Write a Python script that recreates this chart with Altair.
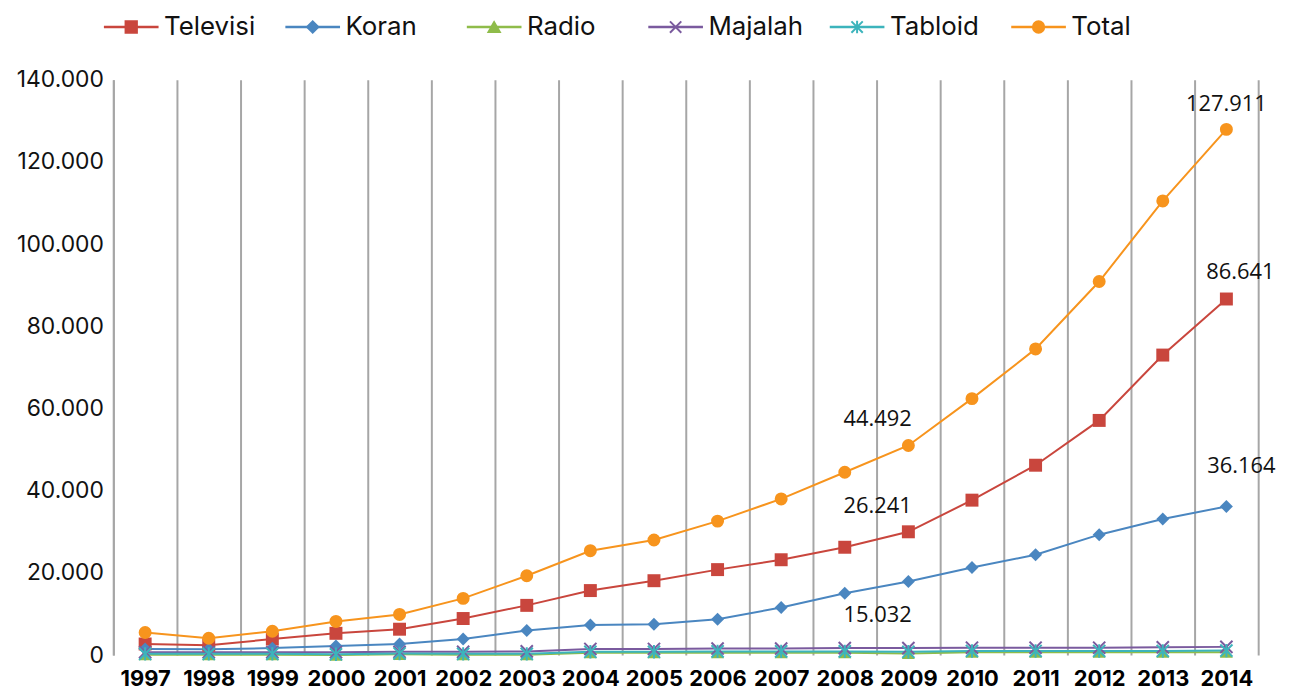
import altair as alt
import pandas as pd

years = [str(y) for y in range(1997, 2015)]
series_names = ["Televisi", "Koran", "Radio", "Majalah", "Tabloid", "Total"]
colors = ["#c9463d", "#4a86c0", "#8fbc4a", "#7a5a9e", "#3cb4bc", "#f7941d"]

televisi = [2700, 2400, 3900, 5300, 6300, 8900, 12100, 15700, 18100, 20800,
            23200, 26241, 30000, 37700, 46200, 57100, 73000, 86641]
koran = [1500, 1400, 1700, 2200, 2700, 3900, 6000, 7300, 7500, 8700,
         11600, 15032, 17900, 21300, 24400, 29300, 33100, 36164]
radio = [100, 100, 100, 0, 200, 100, 100, 600, 600, 600,
         600, 600, 400, 700, 700, 700, 700, 700]
majalah = [700, 700, 700, 700, 800, 800, 900, 1500, 1500, 1600,
           1600, 1700, 1700, 1800, 1800, 1800, 1900, 2000]
tabloid = [300, 300, 300, 200, 400, 300, 300, 800, 800, 900,
           900, 900, 800, 1000, 1000, 1000, 1000, 1100]
total = [5500, 4100, 5800, 8200, 9900, 13800, 19300, 25400, 28000, 32600,
         38000, 44492, 51000, 62400, 74500, 90900, 110500, 127911]

values = [televisi, koran, radio, majalah, tabloid, total]
rows = []
for name, vals in zip(series_names, values):
    for yr, v in zip(years, vals):
        rows.append({"Tahun": yr, "series": name, "nilai": v})
df = pd.DataFrame(rows)
legend_df = pd.DataFrame({"series": series_names})

marker_shapes = [
    "square",
    "diamond",
    "triangle-up",
    "M-1,-1L1,1M-1,1L1,-1",
    "M-1,-1L1,1M-1,1L1,-1M0,-1.1L0,1.1",
    "circle",
]
marker_filled = [True, True, True, False, False, True]

color_scale = alt.Scale(domain=series_names, range=colors)

x_enc = alt.X(
    "Tahun:O",
    title=None,
    sort=years,
    scale=alt.Scale(domain=years, paddingInner=0, paddingOuter=0),
    axis=alt.Axis(
        labelAngle=0,
        labelFont="Inter",
        labelFontWeight="bold",
        labelFontSize=22,
        labelColor="#000000",
        labelPadding=14,
        labelOverlap=False,
        ticks=False,
        domain=False,
        grid=True,
        tickBand="extent",
        gridColor="#a6a6a6",
        gridWidth=2,
    ),
)
y_enc = alt.Y(
    "nilai:Q",
    title=None,
    scale=alt.Scale(domain=[0, 140000], nice=False),
    axis=alt.Axis(
        values=[0, 20000, 40000, 60000, 80000, 100000, 120000, 140000],
        format=",d",
        labelFont="Inter",
        labelFontSize=23,
        labelColor="#111111",
        labelPadding=10,
        ticks=False,
        grid=False,
        domain=True,
        domainColor="#a6a6a6",
        domainWidth=2,
    ),
)
x_plain = alt.X("Tahun:O", sort=years)
y_plain = alt.Y("nilai:Q")

base = alt.Chart(df)

lines = base.mark_line(strokeWidth=2).encode(
    x=x_enc,
    y=y_enc,
    color=alt.Color("series:N", scale=color_scale, legend=None),
    detail="series:N",
)

point_layers = []
for name, shp, filled in zip(series_names, marker_shapes, marker_filled):
    point_layers.append(
        base.transform_filter(alt.datum.series == name).mark_point(
            shape=shp,
            filled=filled,
            size=170 if filled else 150,
            strokeWidth=2,
            opacity=1,
        ).encode(
            x=x_plain,
            y=y_plain,
            color=alt.Color("series:N", scale=color_scale, legend=None),
        )
    )


def label(series, year, dx, dy):
    return base.transform_filter(
        (alt.datum.series == series) & (alt.datum.Tahun == year)
    ).mark_text(
        font="Open Sans", fontSize=22, color="#111111", dx=dx, dy=dy,
        align="center", baseline="middle",
    ).encode(
        x=x_plain,
        y=y_plain,
        text=alt.Text("nilai:Q", format=",d"),
    )


labels = [
    label("Total", "2008", 33, -54),
    label("Televisi", "2008", 33, -41),
    label("Koran", "2008", 33, 22),
    label("Total", "2014", 0, -25),
    label("Televisi", "2014", 14, -27),
    label("Koran", "2014", 15, -41),
]

main = alt.layer(lines, *point_layers, *labels)

# legend drawn as its own layer with its own point scale along the top
leg_x = alt.X(
    "series:N",
    sort=series_names,
    scale=alt.Scale(type="point", domain=series_names, range=[18, 931], padding=0),
    axis=None,
)
leg_y = alt.value(-53)
leg = alt.Chart(legend_df)

leg_line = leg.mark_point(
    shape="M-1,0H1", size=3025, filled=False, strokeWidth=2.5, opacity=1
).encode(
    x=leg_x,
    y=leg_y,
    stroke=alt.Stroke("series:N", scale=color_scale, legend=None),
)
leg_marks = leg.mark_point(size=130, strokeWidth=2, opacity=1, filled=True).encode(
    x=leg_x,
    y=leg_y,
    fill=alt.Fill("series:N", scale=color_scale, legend=None),
    stroke=alt.Stroke("series:N", scale=color_scale, legend=None),
    shape=alt.Shape(
        "series:N",
        scale=alt.Scale(domain=series_names, range=marker_shapes),
        legend=None,
    ),
)
leg_text = leg.mark_text(
    align="left", baseline="middle", dx=33, font="Inter", fontSize=26, color="#111111"
).encode(
    x=leg_x,
    y=leg_y,
    text="series:N",
)
legend_layer = alt.layer(leg_line, leg_marks, leg_text)

chart = alt.layer(main, legend_layer).resolve_scale(
    x="independent", fill="independent", stroke="independent", shape="independent"
).properties(
    width=1152,
    height=579,
    autosize=alt.AutoSizeParams(type="none"),
    padding={"left": 106, "top": 70, "right": 30, "bottom": 37},
).configure(
    view=alt.ViewConfig(stroke=None),
    locale={"number": {"decimal": ",", "thousands": ".", "grouping": [3], "currency": ["Rp", ""]}},
)

chart.save("out.html", embed_options={"renderer": "svg", "actions": False})
